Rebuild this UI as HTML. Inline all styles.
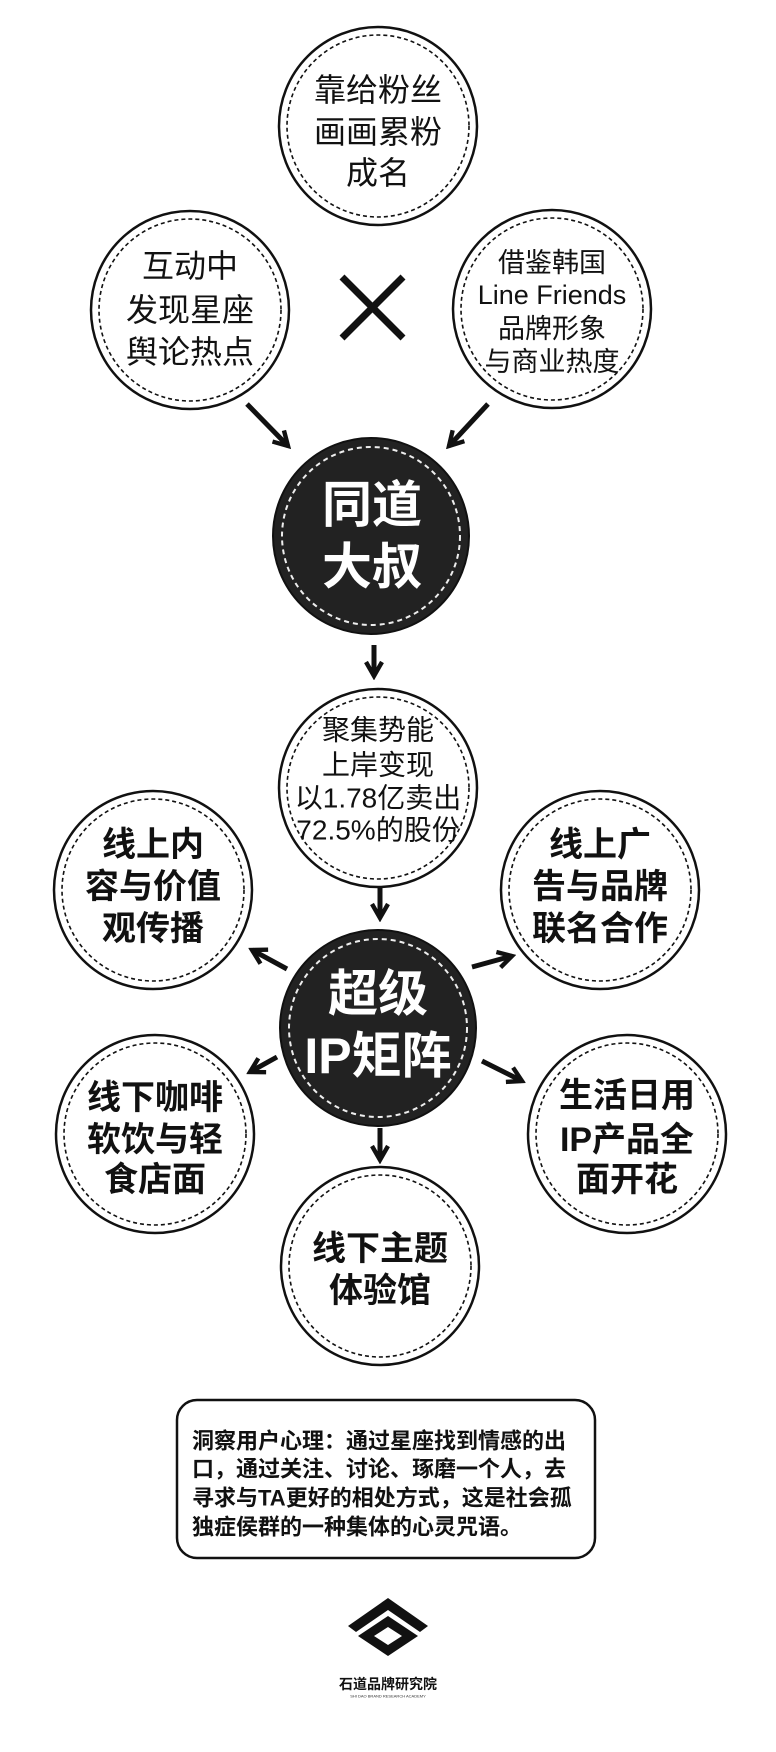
<!DOCTYPE html>
<html><head><meta charset="utf-8"><style>
html,body{margin:0;padding:0;background:#fff;}
svg{display:block;}
text{font-family:"Liberation Sans","Noto Sans CJK SC",sans-serif;text-anchor:middle;dominant-baseline:central;}
.n{font-size:32px;fill:#111;}
.b{font-size:34px;font-weight:bold;fill:#111;}
.w{font-size:50px;font-weight:bold;fill:#fff;}
</style></head><body>
<svg width="776" height="1752" viewBox="0 0 776 1752" xmlns="http://www.w3.org/2000/svg">
<defs>
<marker id="ah" viewBox="0 0 10 10" refX="8" refY="5" markerWidth="4" markerHeight="4" orient="auto">
<path d="M1,1 L8,5 L1,9" fill="none" stroke="#111" stroke-width="2.2"/>
</marker>
<g id="wc"><circle r="99" fill="#fff" stroke="#111" stroke-width="2.5"/><circle r="91" fill="none" stroke="#111" stroke-width="1.6" stroke-dasharray="4 3"/></g>
<g id="dc"><circle r="98" fill="#222" stroke="#111" stroke-width="2"/><circle r="89" fill="none" stroke="#eee" stroke-width="2" stroke-dasharray="5 4"/></g>
</defs>
<g stroke="#111" stroke-width="5" fill="none" marker-end="url(#ah)">
<line x1="247" y1="404" x2="288" y2="446"/>
<line x1="488" y1="404" x2="449" y2="446"/>
<line x1="374" y1="645" x2="374" y2="676"/>
<line x1="380" y1="884" x2="380" y2="918"/>
<line x1="287" y1="969" x2="252" y2="950"/>
<line x1="472" y1="967" x2="512" y2="956"/>
<line x1="277" y1="1057" x2="250" y2="1072"/>
<line x1="482" y1="1061" x2="522" y2="1081"/>
<line x1="380" y1="1128" x2="380" y2="1160"/>
</g>
<g stroke="#111" stroke-width="7"><line x1="342" y1="277" x2="403" y2="338"/><line x1="403" y1="277" x2="342" y2="338"/></g>

<use href="#wc" x="378" y="126"/>
<text class="n" x="378" y="90">靠给粉丝</text><text class="n" x="378" y="132">画画累粉</text><text class="n" x="378" y="173">成名</text>
<use href="#wc" x="190" y="310"/>
<text class="n" x="190" y="266">互动中</text><text class="n" x="190" y="310">发现星座</text><text class="n" x="190" y="352">舆论热点</text>
<use href="#wc" x="552" y="309"/>
<text class="n" style="font-size:27px" x="552" y="263">借鉴韩国</text><text class="n" style="font-size:27px" x="552" y="295">Line Friends</text><text class="n" style="font-size:27px" x="552" y="329">品牌形象</text><text class="n" style="font-size:27px" x="552" y="362">与商业热度</text>

<use href="#dc" x="371" y="536"/>
<text class="w" x="372" y="505">同道</text><text class="w" x="372" y="567">大叔</text>

<use href="#wc" x="378" y="788"/>
<text class="n" style="font-size:28px" x="378" y="730">聚集势能</text><text class="n" style="font-size:28px" x="378" y="765">上岸变现</text><text class="n" style="font-size:28px" x="378" y="798">以1.78亿卖出</text><text class="n" style="font-size:28px" x="378" y="830">72.5%的股份</text>

<use href="#wc" x="153" y="890"/>
<text class="b" x="153" y="845">线上内</text><text class="b" x="153" y="887">容与价值</text><text class="b" x="153" y="929">观传播</text>
<use href="#wc" x="600" y="890"/>
<text class="b" x="600" y="845">线上广</text><text class="b" x="600" y="887">告与品牌</text><text class="b" x="600" y="929">联名合作</text>

<use href="#dc" x="378" y="1028"/>
<text class="w" x="378" y="994">超级</text><text class="w" x="378" y="1056">IP矩阵</text>

<use href="#wc" x="155" y="1134"/>
<text class="b" x="155" y="1098">线下咖啡</text><text class="b" x="155" y="1140">软饮与轻</text><text class="b" x="155" y="1180">食店面</text>
<use href="#wc" x="627" y="1134"/>
<text class="b" x="627" y="1096">生活日用</text><text class="b" x="627" y="1140">IP产品全</text><text class="b" x="627" y="1180">面开花</text>
<use href="#wc" x="380" y="1266"/>
<text class="b" x="380" y="1249">线下主题</text><text class="b" x="380" y="1291">体验馆</text>

<rect x="177" y="1400" width="418" height="158" rx="20" fill="#fff" stroke="#111" stroke-width="2.5"/>
<g style="font-size:22px;font-weight:bold;fill:#111">
<text x="192" y="1441" style="text-anchor:start">洞察用户心理：通过星座找到情感的出</text>
<text x="192" y="1469" style="text-anchor:start">口，通过关注、讨论、琢磨一个人，去</text>
<text x="192" y="1498" style="text-anchor:start">寻求与TA更好的相处方式，这是社会孤</text>
<text x="192" y="1527" style="text-anchor:start">独症侯群的一种集体的心灵咒语。</text>
</g>

<path d="M348,1626 L388,1598 L428,1626 L420,1632 L388,1610 L356,1632 Z" fill="#111"/>
<path d="M358,1636 L388,1616 L418,1636 L388,1656 Z M374,1636 L388,1645 L402,1636 L388,1627 Z" fill="#111" fill-rule="evenodd"/>
<text x="388" y="1684" style="font-size:14px;font-weight:bold;fill:#111">石道品牌研究院</text>
<text x="388" y="1696" style="font-size:4px;fill:#333">SHI DAO BRAND RESEARCH ACADEMY</text>
</svg>
</body></html>
